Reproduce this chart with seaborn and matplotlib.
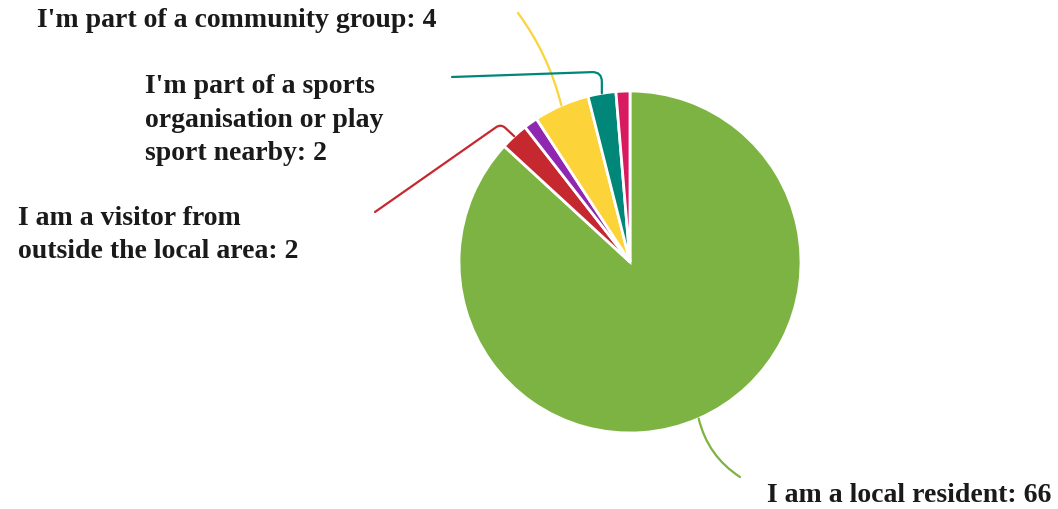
import numpy as np
import matplotlib
matplotlib.use('Agg')
import matplotlib.pyplot as plt
import seaborn as sns

# ── data ────────────────────────────────────────────────
categories = ["I am a local resident", "I am a visitor from\noutside the local area",
              "Other", "I'm part of a community group",
              "I'm part of a sports\norganisation or play\nsport nearby", "Prefer not to say"]
counts = [66, 2, 1, 4, 2, 1]
colors = ["#7CB342", "#C62830", "#9027B0", "#FDD33A", "#00877A", "#D81B60"]
show_label = [True, True, False, True, True, False]

sns.set_theme(style="white")
plt.rcParams['font.family'] = ['Liberation Serif', 'DejaVu Serif']

W, H = 1058, 509
fig = plt.figure(figsize=(W / 100, H / 100), dpi=100)
ax = fig.add_axes([0, 0, 1, 1])

cx, cy, r = 630, 247, 171
wedges, _ = ax.pie(counts, colors=colors, startangle=90, counterclock=False,
                   center=(cx, cy), radius=r, frame=True,
                   wedgeprops=dict(edgecolor="white", linewidth=2))
ax.set_xlim(0, W); ax.set_ylim(0, H)
ax.set_aspect("equal"); ax.axis("off")

# label layout: (text x, text y, line end x, line end y, connection style)
layout = {
    0: (767, 14, 740, 32, "arc3,rad=-0.2"),
    1: (18, 274, 375, 297, "angle,angleA=35,angleB=137,rad=6"),
    3: (37, 489, 518, 496, "arc3,rad=-0.1"),
    4: (145, 389, 452, 432, "angle,angleA=2,angleB=90,rad=10"),
}

for i, w in enumerate(wedges):
    if not show_label[i]:
        continue
    tx, ty, lx, ly, cs = layout[i]
    mid = np.deg2rad((w.theta1 + w.theta2) / 2)
    ax_pt = (cx + r * np.cos(mid), cy + r * np.sin(mid))
    ax.annotate("", xy=ax_pt, xytext=(lx, ly),
                arrowprops=dict(arrowstyle="-", color=colors[i], lw=1.6,
                                connectionstyle=cs, shrinkA=0, shrinkB=0))
    ax.text(tx, ty, f"{categories[i]}: {counts[i]}", ha="left", va="center",
            fontsize=20, fontweight="bold", color="#1a1a1a", linespacing=1.45)

fig.savefig("out.png", dpi=100)
